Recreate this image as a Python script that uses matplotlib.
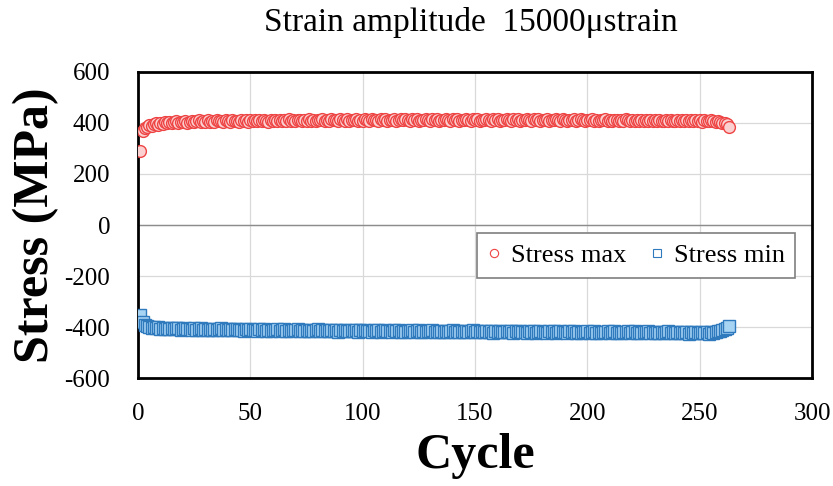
import matplotlib
matplotlib.use("Agg")
import matplotlib.pyplot as plt
import numpy as np

stress_max = [
    290, 368, 380, 386, 391, 388, 395, 398, 393, 400, 396, 402, 398, 404, 399, 403, 406, 400, 405, 402,
    407, 401, 405, 409, 403, 406, 410, 402, 407, 404, 410, 405, 408, 403, 411, 406, 409, 404, 410, 407,
    405, 411, 406, 409, 404, 412, 407, 410, 405, 411, 408, 413, 406, 410, 407, 412, 409, 405, 411, 408,
    413, 407, 410, 406, 412, 409, 414, 408, 411, 406, 413, 410, 407, 412, 409, 414, 408, 411, 406, 413,
    410, 415, 408, 412, 407, 414, 410, 412, 408, 415, 411, 409, 414, 407, 412, 410, 415, 409, 413, 408,
    414, 411, 409, 415, 410, 413, 408, 414, 411, 416, 409, 413, 410, 415, 408, 412, 414, 410, 416, 411,
    409, 414, 411, 415, 408, 413, 410, 416, 412, 409, 414, 411, 415, 408, 413, 410, 416, 412, 409, 414,
    411, 415, 409, 413, 410, 416, 412, 408, 414, 411, 415, 409, 413, 410, 416, 412, 409, 414, 411, 415,
    408, 413, 410, 416, 412, 409, 414, 411, 415, 409, 413, 410, 416, 411, 408, 414, 412, 415, 409, 413,
    411, 415, 408, 413, 410, 414, 412, 409, 415, 411, 408, 413, 410, 414, 409, 412, 415, 410, 408, 413,
    411, 414, 409, 412, 408, 413, 410, 414, 409, 412, 407, 413, 410, 408, 412, 409, 414, 410, 407, 412,
    409, 413, 408, 411, 407, 412, 409, 413, 408, 411, 406, 412, 409, 407, 411, 408, 413, 409, 406, 411,
    408, 412, 407, 410, 406, 411, 408, 412, 407, 410, 405, 411, 408, 406, 410, 407, 405, 408, 403, 401,
    398, 394, 386,
]

stress_min = [
    -352, -380, -390, -395, -398, -402, -399, -404, -401, -406, -403, -407, -402, -408, -404, -409, -405, -403, -410, -406,
    -404, -409, -406, -411, -405, -410, -407, -404, -411, -408, -412, -406, -410, -407, -413, -409, -405, -411, -408, -412,
    -407, -413, -409, -406, -412, -410, -414, -408, -411, -407, -413, -410, -415, -409, -412, -408, -414, -411, -416, -410,
    -413, -409, -415, -411, -408, -414, -412, -416, -410, -413, -409, -415, -412, -417, -411, -414, -410, -416, -413, -409,
    -415, -412, -417, -411, -414, -410, -416, -413, -418, -412, -415, -411, -417, -414, -410, -416, -413, -418, -412, -415,
    -411, -417, -414, -419, -413, -416, -412, -418, -415, -411, -417, -414, -419, -413, -416, -412, -418, -415, -420, -414,
    -417, -413, -419, -416, -412, -418, -415, -420, -414, -417, -413, -419, -416, -421, -415, -418, -414, -420, -417, -413,
    -419, -416, -421, -415, -418, -414, -420, -417, -413, -419, -416, -421, -415, -418, -414, -420, -417, -422, -416, -419,
    -415, -421, -418, -414, -420, -417, -422, -416, -419, -415, -421, -418, -423, -417, -420, -416, -422, -419, -415, -421,
    -418, -423, -417, -420, -416, -422, -419, -415, -421, -418, -423, -417, -420, -416, -422, -419, -424, -418, -421, -417,
    -423, -420, -416, -422, -419, -424, -418, -421, -417, -423, -420, -416, -422, -419, -424, -418, -421, -417, -423, -420,
    -416, -422, -419, -424, -418, -421, -417, -423, -420, -425, -419, -422, -418, -424, -421, -417, -423, -420, -425, -419,
    -422, -418, -424, -421, -426, -420, -423, -419, -425, -422, -418, -424, -421, -426, -420, -423, -419, -417, -414, -411,
    -408, -403, -397,
]

cycles_max = list(range(1, len(stress_max) + 1))
cycles_min = list(range(1, len(stress_min) + 1))

title = "Strain amplitude  15000\u03bcstrain"
xticks = [0, 50, 100, 150, 200, 250, 300]
yticks = [-600, -400, -200, 0, 200, 400, 600]
ytick_labels = ["-600", "-400", "-200", "0", "200", "400", "600"]

plt.rcParams['font.family'] = ['Liberation Serif', 'DejaVu Serif']

fig = plt.figure(figsize=(8.33, 4.86), dpi=100)
ax = fig.add_axes([0.1657, 0.222, 0.8093, 0.630])

ax.grid(True, color='#d9d9d9', linewidth=0.9)
ax.axhline(0, color='#8c8c8c', linewidth=1.0, zorder=1)
ax.set_axisbelow(True)

ax.plot(cycles_max, stress_max, linestyle='none', marker='o', markersize=8.5,
        markerfacecolor='#fbd0d0', markeredgecolor='#ee4444', markeredgewidth=1.0,
        label='Stress max', zorder=3)
ax.plot(cycles_min, stress_min, linestyle='none', marker='s', markersize=8,
        markerfacecolor='#a8d4f4', markeredgecolor='#2f79bd', markeredgewidth=1.0,
        label='Stress min', zorder=3)

ax.set_xlim(0, 300)
ax.set_ylim(-600, 600)
ax.set_xticks(xticks)
ax.set_yticks(yticks)
ax.set_yticklabels(ytick_labels)
ax.tick_params(axis='both', length=0, labelsize=18)
ax.tick_params(axis='x', pad=18)
ax.tick_params(axis='y', pad=20)
for s in ax.spines.values():
    s.set_linewidth(2.0)
    s.set_color('black')

ax.set_xlabel('Cycle', fontsize=36, fontweight='bold', labelpad=6)
ax.set_ylabel('Stress (MPa)', fontsize=36, fontweight='bold', labelpad=4)
fig.text(0.565, 0.953, title, fontsize=24, ha='center', va='center')

leg = ax.legend(loc='lower right', bbox_to_anchor=(0.975, 0.327), ncol=2,
                fontsize=19, frameon=True, fancybox=False, framealpha=1,
                edgecolor='#7f7f7f', handlelength=0.5, handletextpad=0.4,
                columnspacing=0.9, borderpad=0.4, borderaxespad=0,
                markerscale=0.7)
leg.get_frame().set_linewidth(1.2)
for h in leg.legend_handles:
    h.set_markerfacecolor('white')
    h.set_markeredgewidth(0.8)

fig.savefig('out.png', dpi=100)
